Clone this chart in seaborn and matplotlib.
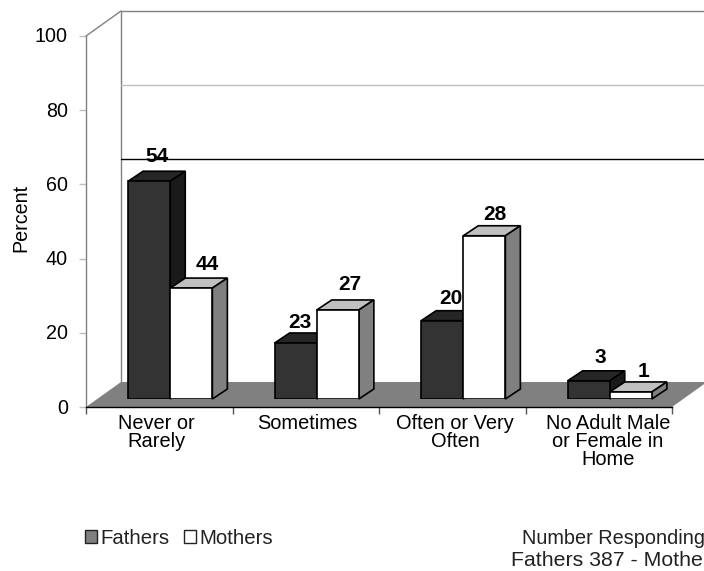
import pandas as pd
import matplotlib
matplotlib.use('Agg')
import matplotlib.pyplot as plt
import matplotlib.transforms as mtrans
from matplotlib.patches import Patch, Polygon
import seaborn as sns

categories = ['Never or\nRarely', 'Sometimes', 'Often or Very\nOften', 'No Adult Male\nor Female in\nHome']
# bar heights as drawn on the percent axis (they differ from the printed labels)
fathers_height = [58.7, 15.1, 21.1, 4.9]
mothers_height = [29.9, 24.0, 44.0, 1.9]
fathers_label = ['54', '23', '20', '3']
mothers_label = ['44', '27', '28', '1']
y_ticks = [0, 20, 40, 60, 80, 100]

# layout, in pixels of the 704x571 picture
W, H = 704, 571
AX_L, AX_R, AX_B, AX_T = 86, 672, 407, 36
CAT_PX = (AX_R - AX_L) / 4
UNIT_PX = (AX_B - AX_T) / 100
label_dx = [8, 4, 9, 12, 16, 12, 11, 13]
label_dy = [25, 20, 22, 23, 24, 25, 21, 20]
xlabel_dx = [-3, 2, 3, 9]

sns.set_style('white')
plt.rcParams['font.family'] = ['Liberation Sans', 'DejaVu Sans']
plt.rcParams['text.color'] = 'black'
plt.rcParams['axes.labelcolor'] = 'black'
plt.rcParams['xtick.labelcolor'] = 'black'
plt.rcParams['ytick.labelcolor'] = 'black'
FS = 14.4

df = pd.DataFrame({
    'category': categories * 2,
    'parent': ['Fathers'] * 4 + ['Mothers'] * 4,
    'height': fathers_height + mothers_height,
})

fig = plt.figure(figsize=(W / 100, H / 100), dpi=100)
ax = fig.add_axes([AX_L / W, (H - AX_B) / H, (AX_R - AX_L) / W, (AX_B - AX_T) / H])
bar_ax = fig.add_axes([(AX_L + 11) / W, (H - AX_B + 8) / H, (AX_R - AX_L) / W, (AX_B - AX_T) / H])

sns.barplot(data=df, x='category', y='height', hue='parent', palette=['#333333', '#ffffff'],
            width=0.575, gap=0, edgecolor='black', linewidth=1.2, saturation=1, legend=False, ax=bar_ax)
bar_ax.set_xlim(-0.5, 3.5)
bar_ax.set_ylim(0, 100)
bar_ax.axis('off')
bar_ax.patch.set_alpha(0)

# walls and floor of the 3D box
wall_dx = 35 / CAT_PX
wall_dy = 25 / UNIT_PX
ax.set_xlim(-0.5, 3.5)
ax.set_ylim(0, 100)
ax.add_patch(Polygon([(-0.5, 0), (-0.5 + wall_dx, wall_dy), (3.5 + wall_dx, wall_dy), (3.5, 0)],
                     closed=True, facecolor='#808080', edgecolor='none', clip_on=False, zorder=1))
ax.plot([-0.5 + wall_dx] * 2, [wall_dy, 100 + wall_dy], color='#808080', lw=1, clip_on=False, zorder=1)
ax.plot([-0.5, -0.5 + wall_dx], [100, 100 + wall_dy], color='#808080', lw=1, clip_on=False, zorder=1)
for val, col in [(100, '#808080'), (80, '#c0c0c0'), (60, 'black')]:
    ax.plot([-0.5 + wall_dx, 3.5 + wall_dx], [val + wall_dy] * 2, color=col, lw=1, clip_on=False, zorder=1)

for side in ['top', 'right']:
    ax.spines[side].set_visible(False)
ax.spines['left'].set_color('#808080')
ax.spines['left'].set_linewidth(1)
ax.spines['bottom'].set_color('black')
ax.spines['bottom'].set_linewidth(1)

ax.set_yticks(y_ticks)
ax.tick_params(axis='y', left=True, length=5, width=1, pad=8, labelsize=14.2, color='#c0c0c0')
for tick, val in zip(ax.yaxis.get_major_ticks(), y_ticks):
    if val in (0, 100):
        tick.tick1line.set_color('black')
for lab in ax.get_yticklabels():
    lab.set_transform(lab.get_transform() + mtrans.Affine2D().translate(0, 1))
ax.set_ylabel('Percent', fontsize=14.2)
ax.yaxis.set_label_coords(30 / W, (H - 218) / H, transform=fig.transFigure)

ax.set_xticks([-0.5, 0.5, 1.5, 2.5, 3.5])
ax.set_xticklabels([])
ax.set_xticks([0, 1, 2, 3], minor=True)
ax.set_xticklabels(categories, minor=True, fontsize=FS, linespacing=0.92)
ax.tick_params(axis='x', which='major', bottom=True, length=5, width=1, color='#555555')
ax.tick_params(axis='x', which='minor', bottom=False, length=0, pad=5)
for lab, nudge in zip(ax.get_xticklabels(minor=True), xlabel_dx):
    lab.set_transform(lab.get_transform() + mtrans.Affine2D().translate(nudge, 0))

# depth faces of each bar, taken from the bars seaborn drew
bar_dx = 15 / CAT_PX
bar_dy = 10 / UNIT_PX
bars = list(bar_ax.patches)
labels = fathers_label + mothers_label
face_cols = [('#262626', '#1a1a1a')] * 4 + [('#c0c0c0', '#808080')] * 4
for i, bar in enumerate(bars):
    x0, w, h = bar.get_x(), bar.get_width(), bar.get_height()
    base = 3 if i < 4 else 5
    top_col, side_col = face_cols[i]
    bar.set_zorder(base)
    bar_ax.add_patch(Polygon([(x0, h), (x0 + bar_dx, h + bar_dy), (x0 + w + bar_dx, h + bar_dy), (x0 + w, h)],
                             closed=True, facecolor=top_col, edgecolor='black', lw=1.2, zorder=base - 1, clip_on=False))
    bar_ax.add_patch(Polygon([(x0 + w, 0), (x0 + w + bar_dx, bar_dy), (x0 + w + bar_dx, h + bar_dy), (x0 + w, h)],
                             closed=True, facecolor=side_col, edgecolor='black', lw=1.2, zorder=base - 1, clip_on=False))
    bar_ax.annotate(labels[i], xy=(x0 + w / 2, h), xytext=(label_dx[i], label_dy[i]), textcoords='offset pixels',
                    ha='center', va='center', fontsize=15, fontweight='bold', color='black', zorder=8)

handles = [Patch(facecolor='#808080', edgecolor='#222222', lw=1, label='Fathers'),
           Patch(facecolor='white', edgecolor='#222222', lw=1, label='Mothers')]
fig.legend(handles=handles, loc='center left', bbox_to_anchor=(85 / W, (H - 538) / H), ncols=2, frameon=False,
           fontsize=14.7, handlelength=0.6, handleheight=0.6, handletextpad=0.17, columnspacing=0.68,
           borderpad=0, borderaxespad=0, labelcolor='#222222')

fig.text(522 / W, (H - 538) / H, 'Number Responding', fontsize=14.3, ha='left', va='center', color='#222222')
fig.text(511 / W, (H - 560) / H, 'Fathers 387 - Mothe', fontsize=15.3, ha='left', va='center', color='#222222')

fig.savefig('out.png', dpi=100)
